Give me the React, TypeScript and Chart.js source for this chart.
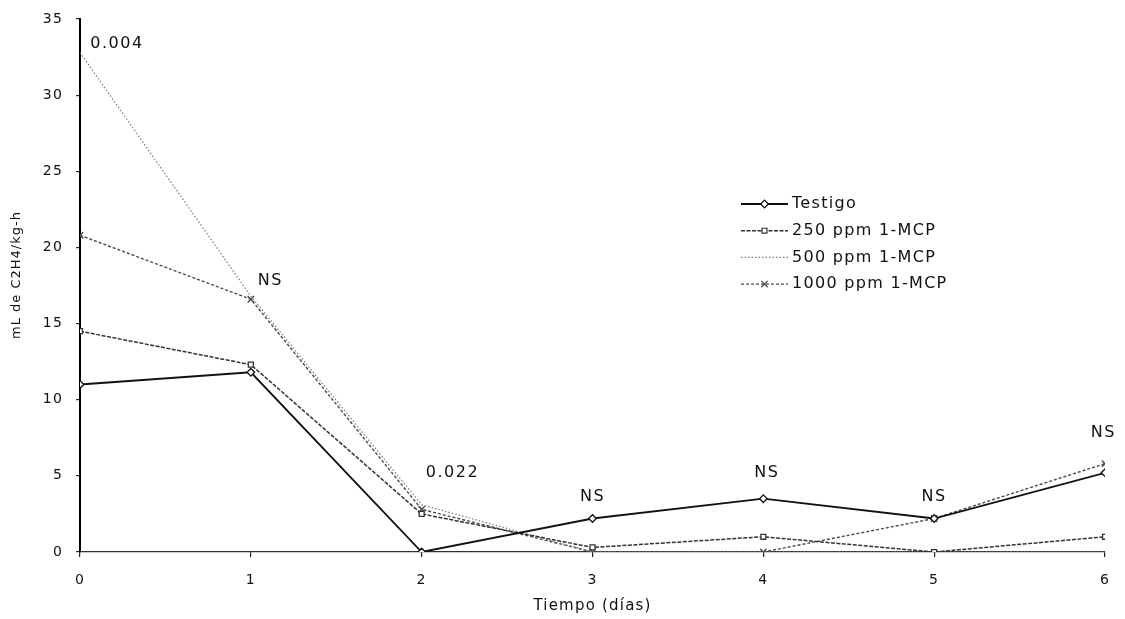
import React, { useEffect, useRef } from 'react';
import { Chart, registerables } from 'chart.js';
import { drawPoint } from 'chart.js/helpers';

Chart.register(...registerables);

// ---- data ----
const days = [0, 1, 2, 3, 4, 5, 6];
const testigo = [11.0, 11.8, 0.0, 2.2, 3.5, 2.2, 5.2];
const ppm250 = [14.5, 12.3, 2.5, 0.3, 1.0, 0.0, 1.0];
const ppm500 = [32.8, 16.8, 3.1, 0.0, 0.0, 0.0, 0.0];
const ppm1000 = [20.8, 16.6, 2.8, 0.0, 0.0, 2.2, 5.8];
const seriesNames = ['Testigo', '250 ppm 1-MCP', '500 ppm 1-MCP', '1000 ppm 1-MCP'];
const xTitle = 'Tiempo (días)';
const yTitle = 'mL de C2H4/kg-h';
// significance labels (text, x in days, y in mL)
const noteTexts = ['0.004', 'NS', '0.022', 'NS', 'NS', 'NS', 'NS'];
const noteX = [0.06, 1.04, 2.18, 3.0, 4.02, 5.0, 5.99];
const noteY = [33.4, 17.8, 5.2, 3.6, 5.2, 3.6, 7.8];
const noteAlign: CanvasTextAlign[] = ['left', 'left', 'center', 'center', 'center', 'center', 'center'];

const FONT = '"DejaVu Sans", "Liberation Sans", Arial, sans-serif';
const TEXT = '#111111';

const spacingPlugin = {
  id: 'spacing',
  beforeUpdate(chart: any) { chart.ctx.letterSpacing = '1.2px'; },
  beforeDraw(chart: any) { chart.ctx.letterSpacing = '1.2px'; },
};

const notesPlugin = {
  id: 'notes',
  afterDatasetsDraw(chart: any) {
    const { ctx, scales } = chart;
    ctx.save();
    ctx.letterSpacing = '1.5px';
    ctx.font = `16px ${FONT}`;
    ctx.fillStyle = TEXT;
    ctx.textBaseline = 'middle';
    noteTexts.forEach((t, i) => {
      ctx.textAlign = noteAlign[i];
      ctx.fillText(t, scales.x.getPixelForValue(noteX[i]), scales.y.getPixelForValue(noteY[i]));
    });
    ctx.restore();
  },
};

const yTitlePlugin = {
  id: 'yTitle',
  afterDraw(chart: any) {
    const { ctx } = chart;
    ctx.save();
    ctx.translate(17, 275);
    ctx.rotate(-Math.PI / 2);
    ctx.letterSpacing = '1px';
    ctx.font = `13px ${FONT}`;
    ctx.fillStyle = TEXT;
    ctx.textAlign = 'center';
    ctx.textBaseline = 'middle';
    ctx.fillText(yTitle, 0, 0);
    ctx.restore();
  },
};

const legendPlugin = {
  id: 'customLegend',
  afterDraw(chart: any) {
    const { ctx } = chart;
    const x0 = 741, x1 = 788, y0 = 204, dy = 26.7;
    ctx.save();
    chart.data.datasets.forEach((ds: any, i: number) => {
      const y = y0 + i * dy;
      ctx.strokeStyle = ds.borderColor;
      ctx.lineWidth = ds.borderWidth;
      ctx.setLineDash(ds.borderDash || []);
      ctx.beginPath();
      ctx.moveTo(x0, y);
      ctx.lineTo(x1, y);
      ctx.stroke();
      ctx.setLineDash([]);
      if (ds.pointRadius > 0) {
        ctx.fillStyle = ds.pointBackgroundColor;
        ctx.strokeStyle = ds.borderColor;
        ctx.lineWidth = 1.2;
        drawPoint(ctx, { pointStyle: ds.pointStyle, radius: ds.pointRadius, rotation: 0, borderWidth: 1.2 } as any, (x0 + x1) / 2, y);
      }
      ctx.letterSpacing = '1.3px';
      ctx.font = `16px ${FONT}`;
      ctx.fillStyle = TEXT;
      ctx.textAlign = 'left';
      ctx.textBaseline = 'middle';
      ctx.fillText(seriesNames[i], 792, y);
    });
    ctx.restore();
  },
};

export default function App() {
  const ref = useRef<HTMLCanvasElement>(null);
  useEffect(() => {
    document.body.style.margin = '0';
    const toPts = (arr: number[]) => days.map((d, i) => ({ x: d, y: arr[i] }));
    const chart = new Chart(ref.current!, {
      type: 'line',
      data: {
        datasets: [
          {
            label: seriesNames[0], data: toPts(testigo),
            borderColor: '#111111', borderWidth: 1.8, pointStyle: 'rectRot', pointRadius: 3.8,
            pointBackgroundColor: '#ffffff', pointBorderColor: '#111111', pointBorderWidth: 1.3,
          },
          {
            label: seriesNames[1], data: toPts(ppm250),
            borderColor: '#333333', borderWidth: 1.5, borderDash: [4, 1.5], pointStyle: 'rect', pointRadius: 3.5,
            pointBackgroundColor: '#ffffff', pointBorderColor: '#333333', pointBorderWidth: 1.3,
          },
          {
            label: seriesNames[2], data: toPts(ppm500),
            borderColor: '#7a7a7a', borderWidth: 1.2, borderDash: [1.5, 2], pointStyle: 'triangle', pointRadius: 0,
            pointBackgroundColor: '#ffffff', pointBorderColor: '#7a7a7a', pointBorderWidth: 1,
          },
          {
            label: seriesNames[3], data: toPts(ppm1000),
            borderColor: '#4a4a4a', borderWidth: 1.4, borderDash: [3, 2], pointStyle: 'crossRot', pointRadius: 4.5,
            pointBackgroundColor: '#ffffff', pointBorderColor: '#4a4a4a', pointBorderWidth: 1.4,
          },
        ] as any,
      },
      options: {
        animation: false,
        responsive: false,
        layout: { padding: { top: 19, right: 20, left: 0, bottom: 0 } },
        plugins: { legend: { display: false }, tooltip: { enabled: false } },
        elements: { line: { tension: 0 } },
        scales: {
          x: {
            type: 'linear', min: 0, max: 6,
            afterFit: (s: any) => { s.height = 67; s.paddingLeft = 0; s.paddingRight = 0; },
            ticks: { stepSize: 1, padding: 15, color: TEXT, font: { family: FONT, size: 14 } },
            grid: { display: true, drawOnChartArea: false, drawTicks: true, tickLength: 5, color: '#222', lineWidth: 1.2 },
            border: { display: true, color: '#333', width: 1.3, dash: [2, 1.5] },
            title: { display: true, text: xTitle, color: TEXT, font: { family: FONT, size: 15 }, padding: { top: 0, bottom: 4 } },
          },
          y: {
            min: 0, max: 35,
            afterFit: (s: any) => { s.width = 80; s.paddingTop = 0; s.paddingBottom = 0; },
            ticks: { stepSize: 5, padding: 13, color: TEXT, font: { family: FONT, size: 14 } },
            grid: { display: true, drawOnChartArea: false, drawTicks: true, tickLength: 4, color: '#222', lineWidth: 1.2 },
            border: { display: true, color: '#000', width: 2 },
            title: { display: false },
          },
        },
      } as any,
      plugins: [spacingPlugin, notesPlugin, yTitlePlugin, legendPlugin],
    });
    return () => chart.destroy();
  }, []);
  return (
    <div style={{ position: 'relative', width: 1125, height: 619, background: '#fff' }}>
      <canvas ref={ref} width={1125} height={619} />
    </div>
  );
}
